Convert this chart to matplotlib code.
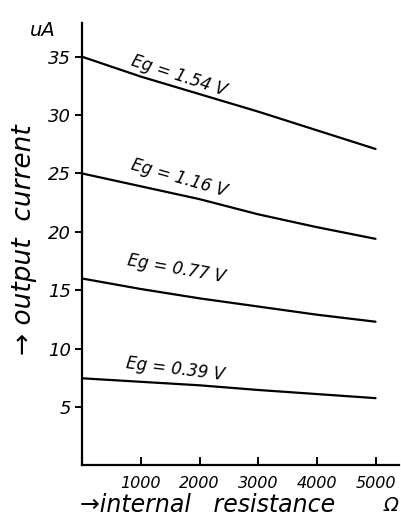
import matplotlib
matplotlib.use("Agg")
import matplotlib.pyplot as plt

# ── Data ─────────────────────────────────────────────────────────────────────
resistance = [0, 1000, 2000, 3000, 4000, 5000]          # ohm
current_154 = [35.0, 33.3, 31.8, 30.3, 28.7, 27.1]       # uA
current_116 = [25.0, 23.9, 22.8, 21.5, 20.4, 19.4]
current_077 = [16.0, 15.1, 14.3, 13.6, 12.9, 12.3]
current_039 = [7.45, 7.15, 6.85, 6.45, 6.1, 5.75]
curve_labels = ["Eg = 1.54 V", "Eg = 1.16 V", "Eg = 0.77 V", "Eg = 0.39 V"]
x_ticks = [1000, 2000, 3000, 4000, 5000]
y_ticks = [5, 10, 15, 20, 25, 30, 35]

# ── Plot ─────────────────────────────────────────────────────────────────────
plt.rcParams["font.family"] = "DejaVu Sans"
plt.rcParams["font.style"] = "italic"

fig = plt.figure(figsize=(4.01, 5.21), dpi=100)
ax = fig.add_axes([0.205, 0.107, 0.79, 0.849])

series = [current_154, current_116, current_077, current_039]
for ys in series:
    ax.plot(resistance, ys, color="black", lw=1.6, solid_capstyle="round")

# curve labels: (x, y, rotation)
label_pos = [(1650, 33.4, -18), (1660, 24.6, -16), (1600, 16.8, -10), (1580, 8.2, -7)]
for txt, (lx, ly, rot) in zip(curve_labels, label_pos):
    ax.text(lx, ly, txt, rotation=rot, ha="center", va="center", fontsize=12,
            rotation_mode="anchor")

# ── Formatting ───────────────────────────────────────────────────────────────
ax.set_xlim(0, 5400)
ax.set_ylim(0, 37.9)
ax.spines["top"].set_visible(False)
ax.spines["right"].set_visible(False)
ax.spines["left"].set_linewidth(1.6)
ax.spines["bottom"].set_linewidth(1.6)

ax.set_xticks(x_ticks)
ax.set_xticklabels([str(t) for t in x_ticks], fontsize=11.5)
ax.set_yticks(y_ticks)
ax.set_yticklabels([str(t) for t in y_ticks], fontsize=13)
ax.tick_params(axis="x", direction="in", length=6, width=1.4, pad=8)
ax.tick_params(axis="y", direction="out", length=5, width=1.4, pad=3)

fig.text(0.075, 0.93, "uA", fontsize=14)
fig.text(0.06, 0.54, "\u2192 output  current", rotation=90, ha="center",
         va="center", fontsize=19)
fig.text(0.20, 0.03, "\u2192internal   resistance", ha="left", va="center",
         fontsize=17)
fig.text(0.975, 0.03, "\u03a9", ha="center", va="center", fontsize=14)

fig.savefig("out.png", dpi=100)
